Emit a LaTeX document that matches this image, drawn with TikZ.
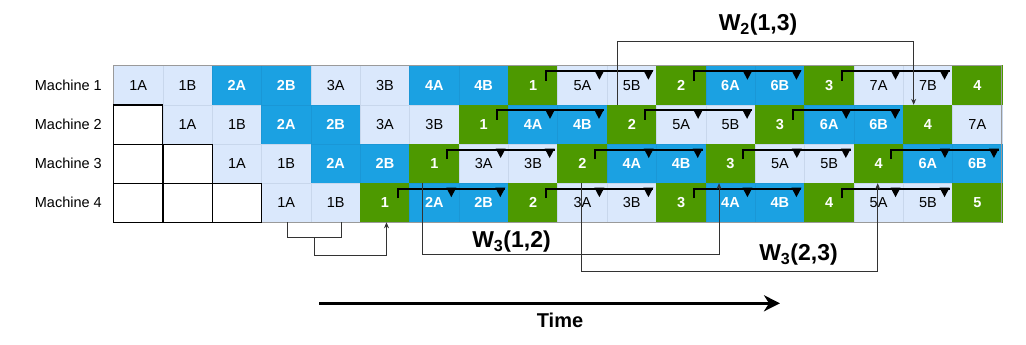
\documentclass[tikz,border=0pt]{standalone}
\usepackage{fontspec}
\setmainfont{Liberation Sans}
\usetikzlibrary{calc,arrows.meta}
\definecolor{colL}{HTML}{DAE8FC}
\definecolor{colB}{HTML}{1BA1E2}
\definecolor{colG}{HTML}{4D9900}
\definecolor{colW}{HTML}{FFFFFF}
\definecolor{bdL}{HTML}{C8D7EC}
\definecolor{bdB}{HTML}{1A97D6}
\definecolor{bdG}{HTML}{4D9900}
\definecolor{bdW}{HTML}{000000}
\definecolor{txL}{HTML}{000000}
\definecolor{txB}{HTML}{FFFFFF}
\definecolor{txG}{HTML}{FFFFFF}
\definecolor{txW}{HTML}{000000}
\definecolor{gridgray}{HTML}{9A9A9A}
\def\ftL{\mdseries}\def\ftB{\bfseries}\def\ftG{\bfseries}\def\ftW{\mdseries}
\tikzset{
  cell/.style={rectangle, anchor=north west, minimum width=49.36pt, minimum height=39.15pt,
    inner sep=0pt, outer sep=0pt, line width=0.6pt},
  mlab/.style={font=\fontsize{14.5}{17}\selectfont, anchor=east, inner sep=0pt},
  wlab/.style={font=\fontsize{23}{27}\selectfont\bfseries, anchor=base, inner sep=0pt},
  brk/.style={line width=2pt, draw=black},
  conn/.style={line width=1pt, draw=black!80, -{Stealth[length=6pt,width=5pt]}},
  connplain/.style={line width=1pt, draw=black!80},
  wbd/.style={line width=0.8pt, draw=black},
}
\newcommand\gridrow[2]{%
  \foreach \t/\k [count=\c] in {#2} {
    \node[cell, fill=col\k, draw=bd\k, text=tx\k,
      font={\fontsize{14.5}{17}\selectfont\csname ft\k\endcsname}]
      (n#1-\c) at ({113.5+(\c-1)*49.36},{65.7+(#1-1)*39.15}) {\t};
  }}
\newcommand\brkt[1]{%
  \draw[brk] ($(#1.north west)+(37.5,15)$) |- ($(#1.north west)+(145,5.5)$);
  \fill ($(#1.north west)+(86,4.5)$) -- ++(10,0) -- ++(-5,9.5) -- cycle;
  \fill ($(#1.north west)+(135,4.5)$) -- ++(10,0) -- ++(-5,9.5) -- cycle;
}
\begin{document}
\begin{tikzpicture}[x=1pt,y=-1pt]
\useasboundingbox (0,0) rectangle (1026,345);
% grid
\gridrow{1}{1A/L,1B/L,2A/B,2B/B,3A/L,3B/L,4A/B,4B/B,1/G,5A/L,5B/L,2/G,6A/B,6B/B,3/G,7A/L,7B/L,4/G}
\gridrow{2}{{}/W,1A/L,1B/L,2A/B,2B/B,3A/L,3B/L,1/G,4A/B,4B/B,2/G,5A/L,5B/L,3/G,6A/B,6B/B,4/G,7A/L}
\gridrow{3}{{}/W,{}/W,1A/L,1B/L,2A/B,2B/B,1/G,3A/L,3B/L,2/G,4A/B,4B/B,3/G,5A/L,5B/L,4/G,6A/B,6B/B}
\gridrow{4}{{}/W,{}/W,{}/W,1A/L,1B/L,1/G,2A/B,2B/B,2/G,3A/L,3B/L,3/G,4A/B,4B/B,4/G,5A/L,5B/L,5/G}
% outline
\draw[gridgray, line width=1pt] (n4-4.south west) -- (n4-18.south east) -- (n1-18.north east)
  -- (n1-1.north west) -- (n1-1.south west);
\foreach \w in {n2-1,n3-1,n3-2,n4-1,n4-2,n4-3}
  \draw[wbd] (\w.north west) rectangle (\w.south east);
% machine labels
\node[mlab] (m1) at (102,85.3) {Machine 1};
\node[mlab] (m2) at (102,124.4) {Machine 2};
\node[mlab] (m3) at (102,163.6) {Machine 3};
\node[mlab] (m4) at (102,202.7) {Machine 4};
% brackets
\foreach \g in {n1-9,n1-12,n1-15,n2-8,n2-11,n2-14,n3-7,n3-10,n3-13,n3-16,n4-6,n4-9,n4-12,n4-15}
  {\brkt{\g}}
% long connectors
\draw[conn] ($(n2-11.north west)+(10.2,0)$) -- ++(0,-63.2) -| ($(n2-17.north west)+(10.4,0)$);
\draw[conn] ($(n3-7.south west)+(12.6,0)$) -- ++(0,71.8) -| ($(n3-13.south west)+(13.2,0)$);
\draw[conn] ($(n3-10.south west)+(23.3,0)$) -- ++(0,88.5) -| ($(n3-16.south west)+(23.8,0)$);
\draw[connplain] ($(n4-4.south)+(1,0)$) -- ++(0,15.4) -| ($(n4-5.south)+(6,0)$);
\coordinate (ub) at ($(n4-4.south)+(28,15.4)$);
\draw[conn] (ub) -- ++(0,17.3) -| ($(n4-6.south)+(1.5,0)$);
% labels
\node[wlab] (w213) at (758,30.5) {W\textsubscript{2}(1,3)};
\node[wlab] (w312) at (511.5,247.3) {W\textsubscript{3}(1,2)};
\node[wlab] (w323) at (798.5,260.3) {W\textsubscript{3}(2,3)};
% time
\coordinate (t0) at (319.3,303.3);
\coordinate (t1) at (780,303.3);
\draw[line width=3pt, -{Stealth[length=16pt,width=16pt,inset=5pt]}] (t0) -- (t1);
\node[font=\fontsize{20}{24}\selectfont\bfseries, anchor=base, inner sep=0pt] (time) at (560,327.7) {Time};
\end{tikzpicture}
\end{document}
